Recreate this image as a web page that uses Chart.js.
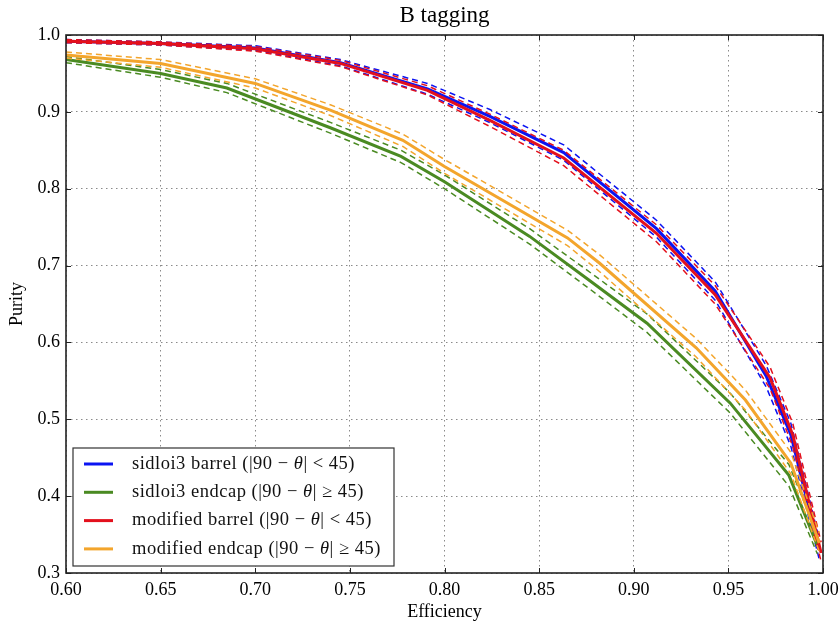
<!DOCTYPE html>
<html>
<head>
<meta charset="utf-8">
<script src="https://cdn.jsdelivr.net/npm/chart.js@4.4.0/dist/chart.umd.min.js"></script>
<style>
  html, body { margin: 0; padding: 0; background: #fff; }
</style>
</head>
<body>
<canvas id="myChart" width="840" height="623"></canvas>
<script>
// efficiency / purity, dashed lines = upper / lower band
const blueEff = [0.600, 0.650, 0.700, 0.745, 0.791, 0.824, 0.863, 0.912, 0.943, 0.970, 0.983, 0.998];
const bluePur = [0.992, 0.989, 0.983, 0.964, 0.930, 0.894, 0.847, 0.748, 0.667, 0.556, 0.480, 0.330];
const blueHi  = [0.994, 0.991, 0.986, 0.968, 0.937, 0.903, 0.857, 0.759, 0.679, 0.570, 0.495, 0.344];
const blueLo  = [0.990, 0.987, 0.980, 0.960, 0.923, 0.886, 0.837, 0.737, 0.655, 0.542, 0.465, 0.318];

const greenEff = [0.600, 0.650, 0.685, 0.740, 0.777, 0.800, 0.845, 0.877, 0.907, 0.951, 0.982, 0.997];
const greenPur = [0.968, 0.950, 0.931, 0.879, 0.842, 0.809, 0.738, 0.680, 0.625, 0.521, 0.427, 0.336];
const greenHi  = [0.972, 0.955, 0.937, 0.886, 0.850, 0.818, 0.748, 0.691, 0.637, 0.534, 0.441, 0.350];
const greenLo  = [0.964, 0.945, 0.925, 0.872, 0.834, 0.800, 0.728, 0.669, 0.613, 0.508, 0.413, 0.325];

const redEff = [0.600, 0.650, 0.700, 0.745, 0.791, 0.824, 0.863, 0.912, 0.943, 0.972, 0.984, 0.999];
const redPur = [0.992, 0.989, 0.982, 0.963, 0.928, 0.889, 0.840, 0.742, 0.662, 0.554, 0.480, 0.326];
const redHi  = [0.994, 0.991, 0.985, 0.967, 0.934, 0.897, 0.850, 0.753, 0.674, 0.568, 0.495, 0.340];
const redLo  = [0.990, 0.987, 0.979, 0.959, 0.922, 0.881, 0.830, 0.731, 0.650, 0.540, 0.465, 0.315];

const orangeEff = [0.600, 0.650, 0.700, 0.740, 0.778, 0.800, 0.865, 0.882, 0.933, 0.959, 0.983, 0.998];
const orangePur = [0.974, 0.963, 0.937, 0.902, 0.863, 0.829, 0.736, 0.703, 0.593, 0.525, 0.443, 0.339];
const orangeHi  = [0.978, 0.968, 0.943, 0.909, 0.871, 0.838, 0.746, 0.714, 0.605, 0.538, 0.457, 0.352];
const orangeLo  = [0.970, 0.958, 0.931, 0.895, 0.855, 0.820, 0.726, 0.692, 0.581, 0.512, 0.429, 0.328];

const labels = [
  "sidloi3 barrel (|90 − θ| < 45)",
  "sidloi3 endcap (|90 − θ| ≥ 45)",
  "modified barrel (|90 − θ| < 45)",
  "modified endcap (|90 − θ| ≥ 45)"
];
const colors = ["#0b14f2", "#4a8a22", "#e3101c", "#f3a52c"];
const titleText = "B tagging";

const FONT = "'Liberation Serif', serif";

function pts(xs, ys) {
  return xs.map((x, i) => ({x: x, y: ys[i]}));
}

const series = [
  [blueEff, bluePur, blueHi, blueLo],
  [greenEff, greenPur, greenHi, greenLo],
  [redEff, redPur, redHi, redLo],
  [orangeEff, orangePur, orangeHi, orangeLo]
];

const datasets = [];
series.forEach((s, i) => {
  datasets.push({
    label: labels[i], data: pts(s[0], s[1]), borderColor: colors[i],
    borderWidth: 3, order: -10 * i - 5, main: true
  });
  [s[2], s[3]].forEach(band => {
    datasets.push({
      label: "", data: pts(s[0], band), borderColor: colors[i],
      borderWidth: 1.5, borderDash: [6, 4], order: -10 * i, main: false
    });
  });
});

// box frame + inward ticks on all four sides, title over the plot area
const frame = {
  id: "frame",
  afterDatasetsDraw(chart) {
    const {ctx, chartArea: a, scales: {x, y}} = chart;
    ctx.save();
    ctx.strokeStyle = "#222";
    ctx.lineWidth = 1;
    ctx.beginPath();
    x.ticks.forEach(t => {
      const px = Math.round(x.getPixelForValue(t.value)) + 0.5;
      ctx.moveTo(px, a.bottom); ctx.lineTo(px, a.bottom - 5);
      ctx.moveTo(px, a.top); ctx.lineTo(px, a.top + 5);
    });
    y.ticks.forEach(t => {
      const py = Math.round(y.getPixelForValue(t.value)) + 0.5;
      ctx.moveTo(a.left, py); ctx.lineTo(a.left + 5, py);
      ctx.moveTo(a.right, py); ctx.lineTo(a.right - 5, py);
    });
    ctx.stroke();
    ctx.lineWidth = 1.6;
    ctx.strokeRect(a.left, a.top, a.right - a.left, a.bottom - a.top);

    ctx.fillStyle = "#000";
    ctx.font = "23px " + FONT;
    ctx.textAlign = "center";
    ctx.textBaseline = "middle";
    ctx.fillText(titleText, (a.left + a.right) / 2, a.top - 19);
    ctx.restore();
  }
};

// legend box in lower left of plot area
const boxLegend = {
  id: "boxLegend",
  afterDraw(chart) {
    const {ctx, chartArea: a} = chart;
    const left = a.left + 7, top = a.bottom - 125, w = 321, h = 118;
    ctx.save();
    ctx.fillStyle = "#fff";
    ctx.fillRect(left, top, w, h);
    ctx.strokeStyle = "#333";
    ctx.lineWidth = 1.2;
    ctx.strokeRect(left, top, w, h);
    const mains = chart.data.datasets.filter(d => d.main);
    mains.forEach((d, i) => {
      const yy = top + 16 + i * 28.3;
      ctx.strokeStyle = d.borderColor;
      ctx.lineWidth = 3;
      ctx.beginPath();
      ctx.moveTo(left + 11, yy); ctx.lineTo(left + 40, yy);
      ctx.stroke();
      ctx.fillStyle = "#111";
      ctx.textBaseline = "middle";
      ctx.letterSpacing = "0.5px";
      let tx = left + 59;
      const parts = d.label.split("θ");
      parts.forEach((p, k) => {
        ctx.font = "18.5px " + FONT;
        ctx.fillText(p, tx, yy);
        tx += ctx.measureText(p).width;
        if (k < parts.length - 1) {
          ctx.font = "italic 18.5px " + FONT;
          ctx.fillText("θ", tx, yy);
          tx += ctx.measureText("θ").width;
        }
      });
    });
    ctx.restore();
  }
};

new Chart("myChart", {
  type: "scatter",
  data: {datasets: datasets},
  plugins: [frame, boxLegend],
  options: {
    responsive: false,
    animation: false,
    devicePixelRatio: 1,
    showLine: true,
    layout: {padding: {top: 35, right: 17, bottom: 0, left: 0}},
    elements: {point: {radius: 0}, line: {tension: 0, fill: false}},
    plugins: {
      legend: {display: false},
      tooltip: {enabled: false},
      title: {display: false}
    },
    scales: {
      x: {
        type: "linear",
        min: 0.6, max: 1.0,
        afterFit: s => { s.height = 50; s.paddingLeft = 0; s.paddingRight = 0; },
        ticks: {
          stepSize: 0.05, color: "#000", padding: 6,
          font: {family: FONT, size: 18},
          callback: v => v.toFixed(2)
        },
        grid: {color: "#8a8a8a", lineWidth: 1, drawTicks: false},
        border: {display: false, dash: [1.5, 3.5]},
        title: {display: true, text: "Efficiency", color: "#000",
                font: {family: FONT, size: 18}, padding: {top: 0, bottom: 0}}
      },
      y: {
        type: "linear",
        min: 0.3, max: 1.0,
        afterFit: s => { s.width = 66; s.paddingTop = 0; s.paddingBottom = 0; },
        ticks: {
          stepSize: 0.1, color: "#000", padding: 6,
          font: {family: FONT, size: 18},
          callback: v => v.toFixed(1)
        },
        grid: {color: "#8a8a8a", lineWidth: 1, drawTicks: false},
        border: {display: false, dash: [1.5, 3.5]},
        title: {display: true, text: "Purity", color: "#000",
                font: {family: FONT, size: 18}, padding: {top: 6, bottom: 0}}
      }
    }
  }
});
</script>
</body>
</html>
